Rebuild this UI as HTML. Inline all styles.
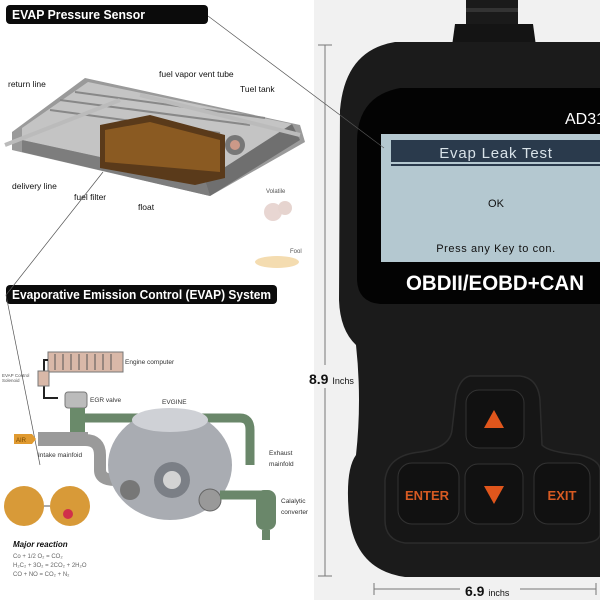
<!DOCTYPE html>
<html><head><meta charset="utf-8"><style>
html,body{margin:0;padding:0;background:#fff;}
svg{display:block;font-family:"Liberation Sans",sans-serif;}
</style></head><body>
<svg width="600" height="600" viewBox="0 0 600 600" xmlns="http://www.w3.org/2000/svg">
<rect x="0" y="0" width="600" height="600" fill="#fff"/>
<rect x="314" y="0" width="286" height="600" fill="#f1f1f1"/>

<!-- device -->
<rect x="466" y="0" width="52" height="24" fill="#1a1a1a"/>
<rect x="466" y="8" width="52" height="4" fill="#333"/>
<path d="M455 24 H533 L536 46 H452 Z" fill="#141414"/>
<path d="M600 42 H395 Q345 50 340 110 L339 300 Q340 330 356 345 Q362 400 356 455 Q345 470 349 515 Q355 570 405 577 H600 Z" fill="#1b1b1b"/>
<path d="M600 88 H400 Q358 96 357 140 V280 Q358 302 380 304 H600 Z" fill="#030303"/>
<rect x="381" y="134" width="219" height="128" fill="#b4c8d0"/>
<rect x="391" y="140" width="209" height="22" fill="#2a3a4c"/>
<rect x="391" y="164" width="209" height="2" fill="#2a3a4c"/>
<text x="565" y="124" font-size="16" fill="#fff">AD31</text>
<text x="496" y="158" font-size="15" fill="#d8e2e8" text-anchor="middle" letter-spacing="0.8">Evap Leak Test</text>
<text x="496" y="207" font-size="11" fill="#111" text-anchor="middle">OK</text>
<text x="496" y="252" font-size="11" fill="#111" text-anchor="middle" letter-spacing="0.6">Press any Key to con.</text>
<text x="406" y="290" font-size="21" font-weight="bold" fill="#fff" textLength="178" lengthAdjust="spacingAndGlyphs">OBDII/EOBD+CAN</text>

<!-- dimension lines -->
<g stroke="#777" stroke-width="1" fill="none">
<line x1="325" y1="45" x2="325" y2="365"/><line x1="325" y1="388" x2="325" y2="576"/>
<line x1="318" y1="45" x2="332" y2="45"/><line x1="318" y1="576" x2="332" y2="576"/>
<line x1="374" y1="589" x2="460" y2="589"/><line x1="520" y1="589" x2="596" y2="589"/>
<line x1="374" y1="583" x2="374" y2="595"/><line x1="596" y1="583" x2="596" y2="595"/>
</g>
<text x="309" y="384" font-size="14" font-weight="bold" fill="#111">8.9 <tspan font-size="9" font-weight="normal">Inchs</tspan></text>
<text x="465" y="596" font-size="14" font-weight="bold" fill="#111">6.9 <tspan font-size="9" font-weight="normal">inchs</tspan></text>

<!-- buttons -->
<path d="M470 376 H520 Q538 378 540 400 L542 445 Q548 452 580 455 Q600 460 600 470 V535 Q598 543 580 543 H405 Q385 540 385 520 V480 Q388 455 420 452 Q450 448 452 430 L456 395 Q460 378 470 376 Z" fill="#161616" stroke="#2c2c2c" stroke-width="1.5"/>
<rect x="466" y="390" width="58" height="58" rx="13" fill="#111" stroke="#333"/>
<rect x="398" y="463" width="61" height="61" rx="14" fill="#111" stroke="#333"/>
<rect x="465" y="464" width="58" height="60" rx="13" fill="#111" stroke="#333"/>
<rect x="534" y="463" width="56" height="61" rx="14" fill="#111" stroke="#333"/>
<polygon points="494,410 504,428 484,428" fill="#e0561c"/>
<polygon points="484,486 504,486 494,504" fill="#e0561c"/>
<text x="427" y="500" font-size="13" font-weight="bold" fill="#d65a22" text-anchor="middle">ENTER</text>
<text x="562" y="500" font-size="13" font-weight="bold" fill="#d65a22" text-anchor="middle">EXIT</text>

<!-- headers -->
<rect x="6" y="5" width="202" height="19" rx="4" fill="#0b0b0b"/>
<text x="12" y="19" font-size="12.5" font-weight="bold" fill="#fff" textLength="133" lengthAdjust="spacingAndGlyphs">EVAP Pressure Sensor</text>
<rect x="6" y="285" width="271" height="19" rx="4" fill="#0b0b0b"/>
<text x="12" y="299" font-size="12.5" font-weight="bold" fill="#fff" textLength="259" lengthAdjust="spacingAndGlyphs">Evaporative Emission Control (EVAP) System</text>
<g stroke="#555" stroke-width="0.7" fill="none">
<line x1="208" y1="16" x2="384" y2="148"/>
<polyline points="103,172 6,295 40,465"/>
</g>

<!-- tank -->
<polygon points="12,132 85,78 300,125 305,142 210,196 12,150" fill="#9a9a9a"/>
<polygon points="22,128 88,82 292,124 205,180 22,140" fill="#c4c4c4"/>
<polygon points="22,140 205,180 210,196 22,152" fill="#7d7d7d"/>
<polygon points="205,180 292,124 300,140 210,196" fill="#6f6f6f"/>
<g stroke="#888" stroke-width="2"><line x1="60" y1="100" x2="250" y2="125"/><line x1="75" y1="92" x2="265" y2="118"/><line x1="50" y1="110" x2="220" y2="133"/></g>
<polygon points="100,125 150,115 225,135 225,178 195,185 100,168" fill="#5a3a1a"/>
<polygon points="105,130 150,122 220,140 220,172 105,162" fill="#8a5a22"/>
<g stroke="#bbb" stroke-width="4"><line x1="5" y1="145" x2="120" y2="100"/><line x1="140" y1="95" x2="300" y2="135"/></g>
<circle cx="235" cy="145" r="10" fill="#777"/><circle cx="235" cy="145" r="5" fill="#c98"/>
<g font-size="8.5" fill="#111">
<text x="8" y="87">return line</text><text x="159" y="77">fuel vapor vent tube</text>
<text x="240" y="92">Tuel tank</text><text x="12" y="189">delivery line</text>
<text x="74" y="200">fuel filter</text><text x="138" y="210">float</text>
</g>
<g font-size="6" fill="#555"><text x="266" y="193">Volatile</text><text x="290" y="253">Fool</text></g>
<circle cx="273" cy="212" r="9" fill="#e8d6d2"/><circle cx="285" cy="208" r="7" fill="#e6d4cf"/>
<ellipse cx="277" cy="262" rx="22" ry="6" fill="#f4dcb0"/>

<!-- engine diagram -->
<rect x="48" y="352" width="75" height="20" fill="#d9b8a8" stroke="#777"/>
<g stroke="#555" stroke-width="1">
<line x1="55" y1="354" x2="55" y2="370"/><line x1="63" y1="354" x2="63" y2="370"/><line x1="71" y1="354" x2="71" y2="370"/><line x1="79" y1="354" x2="79" y2="370"/><line x1="87" y1="354" x2="87" y2="370"/><line x1="95" y1="354" x2="95" y2="370"/><line x1="103" y1="354" x2="103" y2="370"/><line x1="111" y1="354" x2="111" y2="370"/></g>
<path d="M48 360 H44 V372 M44 385 V398 H58" stroke="#222" stroke-width="2" fill="none"/>
<rect x="38" y="371" width="11" height="15" fill="#d9b8a8" stroke="#777"/>
<rect x="65" y="392" width="22" height="16" rx="3" fill="#bbb" stroke="#777"/>
<rect x="70" y="408" width="15" height="26" fill="#6a8a6a"/>
<path d="M85 418 H240 Q250 418 250 430 V465" stroke="#6a876a" stroke-width="9" fill="none"/>
<rect x="38" y="432" width="50" height="14" fill="#9a9a9a"/>
<path d="M85 440 Q100 440 100 455 V470 Q100 480 115 480" stroke="#9a9a9a" stroke-width="12" fill="none"/>
<path d="M14 434 H32 L36 439 L32 444 H14 Z" fill="#e09a30"/>
<text x="16" y="442" font-size="6" fill="#7a4a00">AIR</text>
<ellipse cx="170" cy="465" rx="62" ry="55" fill="#a9acb2"/>
<ellipse cx="170" cy="420" rx="38" ry="12" fill="#cfd1d6"/>
<circle cx="172" cy="480" r="18" fill="#7b7f86"/><circle cx="172" cy="480" r="9" fill="#d3d3d3"/>
<circle cx="130" cy="490" r="10" fill="#777"/><circle cx="210" cy="500" r="11" fill="#999" stroke="#666"/>
<path d="M220 495 H260 Q270 495 270 505 V520" stroke="#6a876a" stroke-width="9" fill="none"/>
<rect x="256" y="490" width="20" height="40" rx="8" fill="#6a876a"/>
<rect x="262" y="530" width="8" height="10" fill="#6a876a"/>
<circle cx="24" cy="506" r="20" fill="#d89a38"/><circle cx="70" cy="506" r="20" fill="#d89a38"/>
<line x1="44" y1="506" x2="50" y2="506" stroke="#555"/>
<circle cx="68" cy="514" r="5" fill="#d0304a"/>
<g font-size="6.5" fill="#333">
<text x="125" y="364">Engine computer</text><text x="90" y="402">EGR valve</text>
<text x="162" y="404">EVGINE</text><text x="38" y="457">Intake mainfoid</text>
<text x="269" y="455">Exhaust</text><text x="269" y="466">mainfold</text>
<text x="281" y="503">Calalytic</text><text x="281" y="514">converter</text>
</g>
<text x="2" y="377" font-size="4.5" fill="#555">EVAP Control</text>
<text x="2" y="382" font-size="4.5" fill="#555">Solenoid</text>
<text x="13" y="547" font-size="8" font-weight="bold" font-style="italic" fill="#111">Major reaction</text>
<g font-size="6" fill="#666">
<text x="13" y="558">Co + 1/2 O₂ = CO₂</text>
<text x="13" y="567">H₂C₂ + 3O₂ = 2CO₂ + 2H₂O</text>
<text x="13" y="576">CO + NO = CO₂ + N₂</text>
</g>
</svg>
</body></html>
